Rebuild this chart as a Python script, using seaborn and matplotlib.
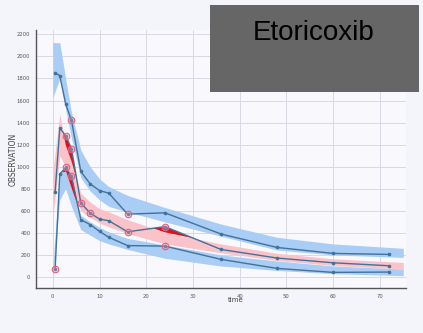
import numpy as np
import pandas as pd
import matplotlib
matplotlib.use("Agg")
from matplotlib import pyplot as plt
from matplotlib.patches import Rectangle
import seaborn as sns

# observed concentrations, three subjects
obs_time = [0.5, 1.5, 2.75, 4, 6, 8, 10, 12, 16, 24, 36, 48, 60, 72]
subj1 = [1850, 1826, 1570, 1420, 957, 844, 784, 760, 570, 582, 390, 268, 214, 205]
subj2 = [769, 1350, 1283, 1165, 671, 580, 525, 510, 410, 457, 250, 172, 129, 102]
subj3 = [72, 934, 993, 913, 520, 475, 414, 360, 285, 280, 160, 78, 42, 45]

# flagged outliers (index into obs_time) per subject
out1 = [3, 8]
out2 = [2, 3, 4, 5, 8, 9]
out3 = [0, 2, 3, 9]

# prediction intervals
band_time = [0, 1.5, 2.75, 4, 6, 8, 10, 12, 16, 24, 36, 48, 60, 75]
p90_lo = [1625, 1800, 1520, 1260, 900, 780, 700, 640, 590, 500, 370, 245, 200, 178]
p90_hi = [2125, 2125, 1800, 1490, 1150, 1000, 890, 820, 740, 630, 480, 360, 300, 260]
p50_lo = [540, 1100, 1000, 840, 600, 540, 490, 455, 395, 300, 220, 150, 105, 72]
p50_hi = [950, 1480, 1200, 1050, 760, 680, 620, 590, 520, 405, 300, 215, 165, 132]
p10_lo = [-5, 700, 800, 640, 430, 380, 330, 300, 250, 170, 100, 60, 30, 12]
p10_hi = [90, 950, 960, 800, 560, 500, 450, 410, 350, 290, 200, 145, 100, 72]

line_col = "#41729b"
blue = "#a9cdf4"
pink = "#f9c3c9"
red = "#e3101a"

rows = []
for sid, vals in zip([1, 2, 3], [subj1, subj2, subj3]):
    for t, v in zip(obs_time, vals):
        rows.append({"id": sid, "time": t, "OBSERVATION": v})
df = pd.DataFrame(rows)

outl = []
for sid, vals, idx in zip([1, 2, 3], [subj1, subj2, subj3], [out1, out2, out3]):
    for i in idx:
        outl.append({"time": obs_time[i], "OBSERVATION": vals[i]})
df_out = pd.DataFrame(outl)

sns.set_style("white")
fig = plt.figure(figsize=(4.23, 3.33), dpi=100, facecolor="#f4f5fb")
ax = fig.add_axes([0.085, 0.135, 0.875, 0.775])
ax.set_facecolor("#f8f8fd")

bt = np.array(band_time, dtype=float)
ax.fill_between(bt, p90_lo, p90_hi, color=blue, lw=0, zorder=1)
ax.fill_between(bt, p50_lo, p50_hi, color=pink, lw=0, zorder=1)
ax.fill_between(bt, p10_lo, p10_hi, color=blue, lw=0, zorder=1)

# empirical percentiles outside the intervals
ot = np.array(obs_time, dtype=float)
mid = np.array(subj2, dtype=float)
hi50 = np.interp(ot, bt, p50_hi)
ax.fill_between(ot, mid, hi50, where=mid > hi50, interpolate=True, color=red, lw=0, zorder=2)
low = np.array(subj3, dtype=float)
hi10 = np.interp(ot, bt, p10_hi)
ax.fill_between(ot, low, hi10, where=low > hi10, interpolate=True, color=red, lw=0, zorder=2)

sns.lineplot(data=df, x="time", y="OBSERVATION", units="id", estimator=None,
             color=line_col, lw=1.0, marker="o", markersize=2.6, markeredgewidth=0,
             ax=ax, zorder=3)
sns.scatterplot(data=df_out, x="time", y="OBSERVATION", s=22, facecolor=(0.95, 0.6, 0.7, 0.35),
                edgecolor="#e0607c", linewidth=0.8, ax=ax, zorder=4)

ax.set_xlim(-3.6, 75.6)
ax.set_ylim(-100, 2240)
ax.set_xticks(range(0, 80, 10))
ax.set_yticks(range(0, 2400, 200))
ax.grid(True, color="#d9d9e3", lw=0.7)
ax.set_axisbelow(True)
for s in ["top", "right"]:
    ax.spines[s].set_visible(False)
for s in ["left", "bottom"]:
    ax.spines[s].set_color("#555555")
    ax.spines[s].set_linewidth(1.0)
ax.tick_params(labelsize=3.8, colors="#555555", length=2, width=0.6, pad=2)
ax.set_xlabel("time", fontsize=5, color="#444444", labelpad=2)
ax.xaxis.set_label_coords(0.54, -0.035)
ax.set_ylabel("OBSERVATION", fontsize=5.5, color="#444444")
ax.yaxis.set_label_coords(-0.05, 0.5)

fig.patches.append(Rectangle((0.4965, 0.724), 0.494, 0.261, transform=fig.transFigure,
                             facecolor="#666666", edgecolor="none", zorder=10))
fig.text(0.742, 0.902, "Etoricoxib", fontsize=20, family="Liberation Sans",
         ha="center", va="center", color="black", zorder=11)

fig.savefig("out.png", dpi=100, facecolor=fig.get_facecolor())
